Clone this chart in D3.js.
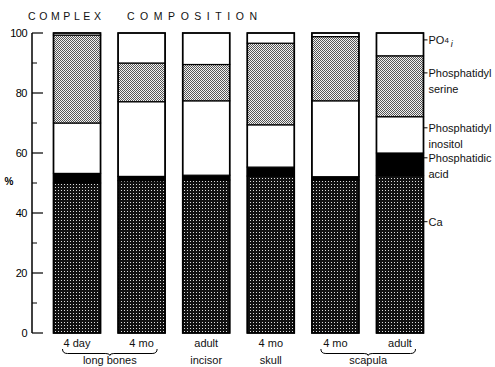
<!DOCTYPE html>
<html><head><meta charset="utf-8">
<script src="https://cdn.jsdelivr.net/npm/d3@7"></script>
<style>
html,body{margin:0;padding:0;background:#fff;}
svg{display:block;font-family:"Liberation Sans",Arial,sans-serif;}
</style></head>
<body>
<script>
const categories = ["long4day","long4mo","incisor","skull","scap4mo","scapAdult"];
const barLabels1 = ["4 day","4 mo","adult","4 mo","4 mo","adult"];
const barLabels2 = ["", "", "incisor", "skull", "", ""];
const groupLabels = ["long bones","scapula"];
const seriesNames = ["Ca","Phosphatidic acid","Phosphatidyl inositol","Phosphatidyl serine","PO4i"];
const ca   = [50.0, 50.8, 51.0, 52.3, 51.0, 52.5];
const pa   = [3.2, 1.4, 1.6, 3.0, 1.1, 7.5];
const pi   = [16.8, 24.9, 24.8, 14.1, 25.3, 12.1];
const ps   = [29.3, 12.9, 12.1, 27.2, 21.4, 20.3];
const po4  = [0.7, 10.0, 10.5, 3.4, 1.2, 7.6];
const yTicks = [0,20,40,60,80,100];
const yMinor = [10,30,50,70,90];

const W=495,H=367;
const svg=d3.select("body").append("svg").attr("width",W).attr("height",H);
const defs=svg.append("defs");
// Ca: dark stipple
const pCa=defs.append("pattern").attr("id","pCa").attr("patternUnits","userSpaceOnUse").attr("width",3).attr("height",3);
pCa.append("rect").attr("width",3).attr("height",3).attr("fill","#111");
pCa.append("rect").attr("x",1).attr("y",1).attr("width",1).attr("height",1).attr("fill","#ddd");
// serine: light stipple
const pPs=defs.append("pattern").attr("id","pPs").attr("patternUnits","userSpaceOnUse").attr("width",2).attr("height",2);
pPs.append("rect").attr("width",2).attr("height",2).attr("fill","#f2f2f2");
pPs.append("rect").attr("x",0).attr("y",0).attr("width",1).attr("height",1).attr("fill","#555");
pPs.append("rect").attr("x",1).attr("y",1).attr("width",1).attr("height",1).attr("fill","#555");

const fills=["url(#pCa)","#000","#fff","url(#pPs)","#fff"];
const seriesVals=[ca,pa,pi,ps,po4];

const y=d3.scaleLinear().domain([0,100]).range([333,33]);
const x=d3.scaleBand().domain(categories).range([53.5,423.5]).paddingInner(0.272).paddingOuter(0);

// Title
const title=svg.append("g").attr("font-size",10.5).attr("fill","#111");
title.append("text").attr("x",28).attr("y",20).attr("textLength",73).attr("lengthAdjust","spacing").text("COMPLEX");
title.append("text").attr("x",127).attr("y",20).attr("textLength",130).attr("lengthAdjust","spacing").text("COMPOSITION");

// Y axis
const ax=svg.append("g");
ax.append("line").attr("x1",32).attr("x2",32).attr("y1",y(100)).attr("y2",y(0)).attr("stroke","#000").attr("stroke-width",1.5);
ax.selectAll(".maj").data(yTicks).join("line").attr("x1",32).attr("x2",43).attr("y1",d=>y(d)).attr("y2",d=>y(d)).attr("stroke","#000").attr("stroke-width",1.2);
ax.selectAll(".min").data(yMinor).join("line").attr("x1",32).attr("x2",37).attr("y1",d=>y(d)).attr("y2",d=>y(d)).attr("stroke","#000").attr("stroke-width",1);
ax.selectAll("text").data(yTicks).join("text").attr("x",27).attr("y",d=>y(d)).attr("dy","0.35em").attr("text-anchor","end").attr("font-size",11).attr("letter-spacing",-0.5).text(d=>d);
svg.append("text").attr("x",9).attr("y",185).attr("text-anchor","middle").attr("font-size",10).attr("font-weight","bold").text("%");

// stacked data
const rows=categories.map((c,i)=>{let o={cat:c};seriesNames.forEach((s,j)=>o[s]=seriesVals[j][i]);return o;});
const stack=d3.stack().keys(seriesNames)(rows);
const gb=svg.append("g");
stack.forEach((layer,j)=>{
  gb.selectAll(null).data(layer).join("rect")
    .attr("x",d=>x(d.data.cat)).attr("width",x.bandwidth())
    .attr("y",d=>y(d[1])).attr("height",d=>y(d[0])-y(d[1]))
    .attr("fill",fills[j]).attr("stroke","#000").attr("stroke-width",1.2);
});
// outline
gb.selectAll(null).data(categories).join("rect")
  .attr("x",d=>x(d)).attr("width",x.bandwidth()).attr("y",y(100)).attr("height",y(0)-y(100))
  .attr("fill","none").attr("stroke","#000").attr("stroke-width",1.6);

// Legend at right
const legendLines=[["PO4i"],["Phosphatidyl","serine"],["Phosphatidyl","inositol"],["Phosphatidic","acid"],["Ca"]];
const legendAt=[97.7,86.7,68.4,58.4,37.1];
const lx=x(categories[5])+x.bandwidth();
const lg=svg.append("g").attr("font-size",11).attr("fill","#111");
legendLines.forEach((lines,k)=>{
  const yy=y(legendAt[k]);
  lg.append("line").attr("x1",lx).attr("x2",lx+4).attr("y1",yy).attr("y2",yy).attr("stroke","#000");
  lines.forEach((t,m)=>{
    const tx=lg.append("text").attr("x",lx+5).attr("y",yy+m*16.5).attr("dy","0.35em");
    if(t==="PO4i"){
      tx.append("tspan").text("PO");
      tx.append("tspan").attr("font-size",8).attr("dy","-0.1em").text("4");
      tx.append("tspan").attr("font-size",9).attr("font-style","italic").attr("dx",2).attr("dy","0.45em").text("i");
    } else tx.text(t);
  });
});

// bottom labels
const bl=svg.append("g").attr("font-size",11).attr("fill","#111").attr("text-anchor","middle");
categories.forEach((c,i)=>{
  const cx=x(c)+x.bandwidth()/2;
  bl.append("text").attr("x",cx).attr("y",346.5).text(barLabels1[i]);
  if(barLabels2[i]) bl.append("text").attr("x",cx).attr("y",363.5).text(barLabels2[i]);
});
function brace(a,b){
  const m=(a+b)/2, y0=349, y1=353.5;
  return `M${a},${y0} Q${a},${y1} ${a+5},${y1} L${m-4},${y1} Q${m},${y1} ${m},${y1+2} Q${m},${y1} ${m+4},${y1} L${b-5},${y1} Q${b},${y1} ${b},${y0}`;
}
const groups=[[0,1],[4,5]];
groups.forEach((g,k)=>{
  const aa=x(categories[g[0]])+9, bb=x(categories[g[1]])+x.bandwidth()-8;
  svg.append("path").attr("d",brace(aa,bb)).attr("fill","none").attr("stroke","#000").attr("stroke-width",1);
  bl.append("text").attr("x",(aa+bb)/2).attr("y",363.5).text(groupLabels[k]);
});
</script>
</body></html>
